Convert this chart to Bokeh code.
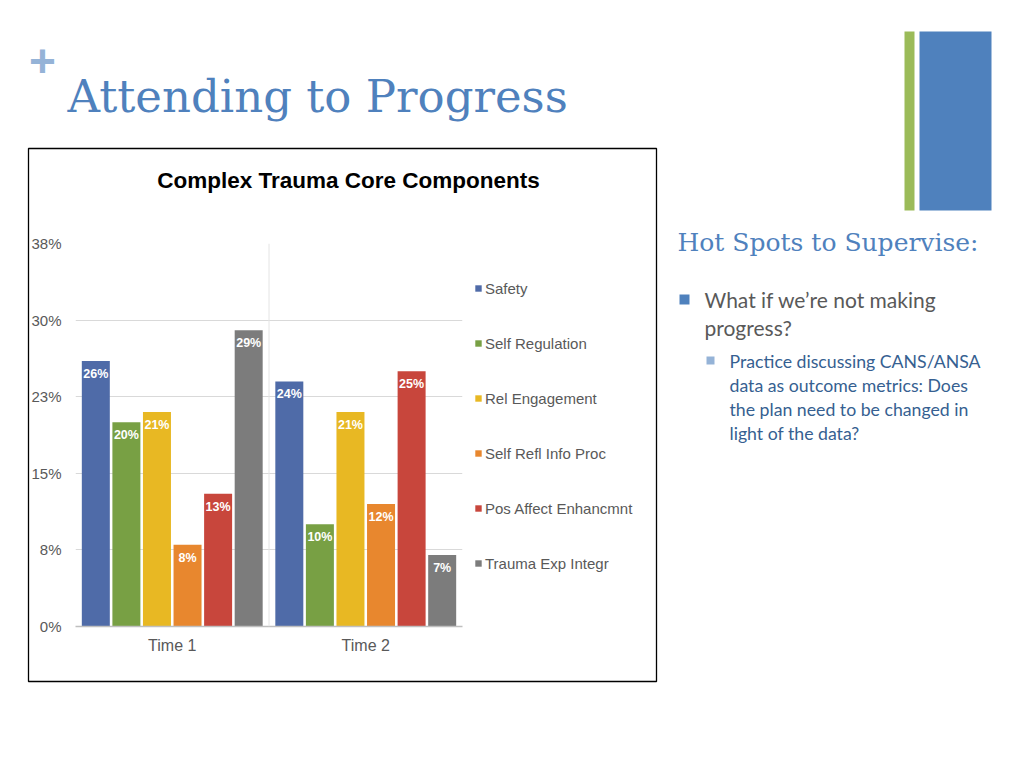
from bokeh.plotting import figure
from bokeh.models import (Range1d, FixedTicker, PrintfTickFormatter, Span, Legend, LegendItem,
                          ColumnDataSource, GridBox, Column)
from bokeh.transform import dodge
from bokeh.embed import file_html
from bokeh.resources import INLINE
from bokeh.core.properties import value

# ---------------- data ----------------
times = ["Time 1", "Time 2"]
components = ["Safety", "Self Regulation", "Rel Engagement", "Self Refl Info Proc",
              "Pos Affect Enhancmnt", "Trauma Exp Integr"]
time1 = [26, 20, 21, 8, 13, 29]
time2 = [24, 10, 21, 12, 25, 7]
colors = ["#4f6ba8", "#78a044", "#e8b823", "#e8872e", "#c8463c", "#7c7c7c"]
y_ticks = [0, 7.5, 15, 22.5, 30, 37.5]

slide_title = "Attending to Progress"
chart_title = "Complex Trauma Core Components"
side_heading = "Hot Spots to Supervise:"
bullet_lines = ["What if we\u2019re not making", "progress?"]
sub_lines = ["Practice discussing CANS/ANSA", "data as outcome metrics:  Does",
             "the plan need to be changed in", "light of the data?"]

SANS = "Liberation Sans"
SERIF = "DejaVu Serif"
BODY = "Lato"

W, H = 1024, 768
FL, FR, FT, FB = 75, 462, 243, 626   # chart frame edges in page px

# ================= background slide (page pixel coordinates) =================
bg = figure(width=W, height=H, x_range=Range1d(0, W), y_range=Range1d(H, 0),
            x_axis_type=None, y_axis_type=None, output_backend="svg",
            toolbar_location=None, min_border=0)
bg.outline_line_color = None
bg.grid.visible = False
bg.background_fill_color = "white"
bg.border_fill_color = "white"

# chart box outline
bg.quad(left=[28], right=[656], top=[148], bottom=[681], fill_alpha=0,
        line_color="black", line_width=1.3)
# accent bars and bullets
bg.quad(left=[904, 919, 679, 706], right=[914, 991, 689, 714],
        top=[31, 31, 294, 356], bottom=[210, 210, 304, 364],
        fill_color=["#9bbb59", "#4f81bd", "#4f81bd", "#95b3d7"], line_color=None)

def txt(x, y, t, font, size, color, style="normal", align="left"):
    bg.text(x=[x], y=[y], text=[t], text_font=value(font), text_font_size=size,
            text_color=color, text_font_style=style, text_align=align,
            text_baseline="middle")

txt(42, 60, "+", SANS, "46px", "#95b3d7", style="bold", align="center")
txt(67, 96, slide_title, SERIF, "45px", "#4f81bd")
txt(348, 180, chart_title, SANS, "22.5px", "black", style="bold", align="center")
txt(677, 242, side_heading, SERIF, "25px", "#4f81bd")
for k, line in enumerate(bullet_lines):
    txt(704, 299 + 28 * k, line, BODY, "21px", "#595959")
for k, line in enumerate(sub_lines):
    txt(729, 361 + 24 * k, line, BODY, "17.7px", "#365f91")

# legend swatches take their colours from zero-size bar renderers
leg_items = []
for comp, c in zip(components, colors):
    r = bg.vbar(x=[0], top=[0], width=0, fill_color=c, line_color=None)
    leg_items.append(LegendItem(label=comp, renderers=[r]))
legend = Legend(items=leg_items, location=(474, H - 278 - 295), border_line_color=None,
                background_fill_alpha=0, glyph_width=8, glyph_height=8, label_standoff=3,
                spacing=35, label_height=20, padding=0, margin=0,
                label_text_font=SANS, label_text_font_size="15px", label_text_color="#595959")
bg.add_layout(legend, "center")

# ================= chart (transparent, overlaid) =================
centers = [k + 0.5 for k in range(len(times))]

p = figure(width=W, height=H, x_range=Range1d(0, len(times)), y_range=Range1d(0, 37.5),
           output_backend="svg", toolbar_location=None,
           min_border_left=FL, min_border_right=W - FR, min_border_top=FT,
           min_border_bottom=H - FB)
p.outline_line_color = None
p.background_fill_alpha = 0
p.border_fill_alpha = 0

offsets = [-0.395, -0.237, -0.079, 0.079, 0.237, 0.395]
bar_w = 0.1447
for i, comp in enumerate(components):
    vals = [time1[i], time2[i]]
    src = ColumnDataSource(dict(x=centers, top=vals, lab=[f"{v}%" for v in vals]))
    p.vbar(x=dodge("x", offsets[i]), top="top", width=bar_w, source=src,
           fill_color=colors[i], line_color=None)
    p.text(x=dodge("x", offsets[i]), y="top", text="lab", source=src,
           text_color="white", text_font=value(SANS), text_font_style="bold",
           text_font_size="12.5px", text_align="center", text_baseline="top", y_offset=6)

p.yaxis.ticker = FixedTicker(ticks=y_ticks)
p.yaxis.formatter = PrintfTickFormatter(format="%.0f%%")
p.yaxis.axis_line_color = None
p.yaxis.major_tick_line_color = None
p.yaxis.minor_tick_line_color = None
p.yaxis.major_label_text_font = SANS
p.yaxis.major_label_text_font_size = "15px"
p.yaxis.major_label_text_color = "#595959"
p.yaxis.major_label_standoff = 8

p.xaxis.ticker = FixedTicker(ticks=centers)
p.xaxis.major_label_overrides = {c: t for c, t in zip(centers, times)}
p.xaxis.axis_line_color = "#bfbfbf"
p.xaxis.axis_line_width = 1.5
p.xaxis.major_tick_line_color = None
p.xaxis.minor_tick_line_color = None
p.xaxis.major_label_text_font = SANS
p.xaxis.major_label_text_font_size = "16px"
p.xaxis.major_label_text_color = "#595959"
p.xaxis.major_label_standoff = 4

p.xgrid.grid_line_color = None
p.ygrid.ticker = FixedTicker(ticks=y_ticks)
p.ygrid.grid_line_color = "#d9d9d9"
p.ygrid.grid_line_width = 1.2
p.add_layout(Span(location=1.0, dimension="height", line_color="#e4e4e4", line_width=1))

# overlay both figures in one grid cell, without aligning their frames
if "frame_align" in bg.properties():
    bg.frame_align = False
    p.frame_align = False
    kids = [(bg, 0, 0), (p, 0, 0)]
else:
    kids = [(Column(children=[bg]), 0, 0), (Column(children=[p]), 0, 0)]
page = GridBox(children=kids, width=W, height=H)
open("out.html", "w").write(file_html(page, INLINE))
